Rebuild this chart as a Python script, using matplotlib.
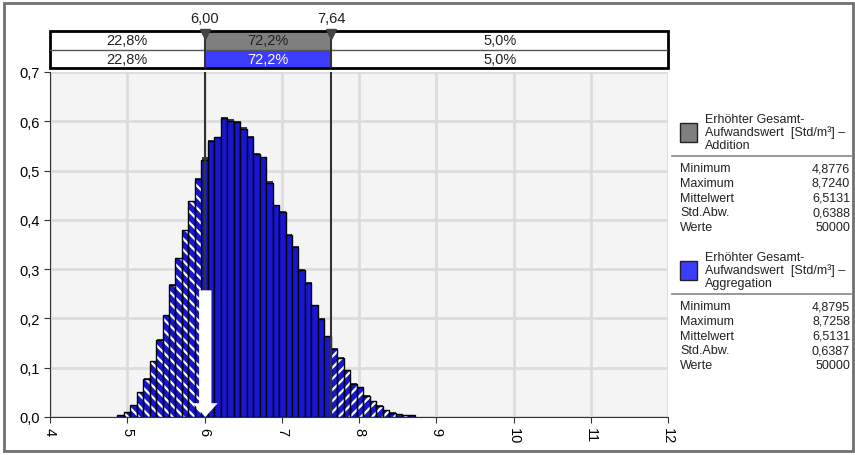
import matplotlib.pyplot as plt
from matplotlib.patches import Rectangle
from matplotlib.ticker import FuncFormatter
import numpy as np

# histogram bins (46 classes)
bin_start = 4.87
bin_width = 0.0838
aggregation = [0.004, 0.011, 0.024, 0.051, 0.078, 0.114, 0.157, 0.206, 0.268, 0.322,
               0.379, 0.438, 0.483, 0.522, 0.561, 0.569, 0.606, 0.601, 0.598, 0.584,
               0.569, 0.534, 0.528, 0.475, 0.431, 0.415, 0.370, 0.344, 0.299, 0.271,
               0.227, 0.199, 0.164, 0.137, 0.119, 0.095, 0.067, 0.060, 0.043, 0.032,
               0.023, 0.014, 0.009, 0.006, 0.004, 0.004]
addition = [0.004, 0.011, 0.025, 0.051, 0.079, 0.114, 0.158, 0.206, 0.269, 0.322,
            0.380, 0.438, 0.484, 0.527, 0.563, 0.569, 0.609, 0.604, 0.600, 0.588,
            0.570, 0.536, 0.528, 0.478, 0.431, 0.418, 0.372, 0.346, 0.301, 0.274,
            0.228, 0.200, 0.164, 0.139, 0.121, 0.095, 0.069, 0.061, 0.044, 0.033,
            0.024, 0.015, 0.010, 0.006, 0.004, 0.004]
lower_cut, upper_cut = 6.00, 7.64
cut_labels = ["6,00", "7,64"]
pct_addition = ["22,8%", "72,2%", "5,0%"]
pct_aggregation = ["22,8%", "72,2%", "5,0%"]

legend_titles = ["Erhöhter Gesamt-\nAufwandswert  [Std/m³] –\nAddition",
                 "Erhöhter Gesamt-\nAufwandswert  [Std/m³] –\nAggregation"]
stat_names = ["Minimum", "Maximum", "Mittelwert", "Std.Abw.", "Werte"]
stats_addition = ["4,8776", "8,7240", "6,5131", "0,6388", "50000"]
stats_aggregation = ["4,8795", "8,7258", "6,5131", "0,6387", "50000"]

BLUE = '#1616d4'
BLUE_LIGHT = '#3c3cff'
GREY = '#7f7f7f'
W, H = 855, 456

plt.rcParams['font.family'] = ['Liberation Sans', 'DejaVu Sans']
plt.rcParams['hatch.linewidth'] = 1.6

fig = plt.figure(figsize=(W / 100, H / 100), dpi=100)

def px(x, y):
    return x / W, 1 - y / H

# main plot area (pixels: x 50..668, y 73..418)
ax = fig.add_axes([50 / W, 1 - 418 / H, 618 / W, 345 / H])
ax.set_facecolor('#f4f4f4')
ax.set_xlim(4, 12)
ax.set_ylim(0, 0.7)
ax.set_xticks(range(4, 13))
ax.set_yticks(np.arange(0, 0.71, 0.1))
ax.grid(True, color='#dcdcdc', lw=2)
ax.set_axisbelow(True)
ax.yaxis.set_major_formatter(FuncFormatter(lambda v, p: f"{v:.1f}".replace('.', ',')))
ax.tick_params(axis='y', labelsize=10.5, length=4, color='#333333')
ax.tick_params(axis='x', labelsize=10.5, length=4, color='#333333', labelrotation=-90)
for s in ['top', 'right']:
    ax.spines[s].set_visible(False)
ax.spines['left'].set_color('#333333')
ax.spines['bottom'].set_color('#333333')

lefts = bin_start + np.arange(len(aggregation)) * bin_width
centers = lefts + bin_width / 2
inner = (centers > lower_cut) & (centers < upper_cut)
low = centers <= lower_cut
high = centers >= upper_cut
agg = np.array(aggregation)
add = np.array(addition)

# grey "Addition" histogram behind
ax.bar(lefts + 0.006, add, width=bin_width, align='edge', color='#3a3a3a', lw=0, zorder=2)

# solid middle part
ax.bar(lefts[inner], agg[inner], width=bin_width, align='edge',
       color=BLUE, edgecolor='black', lw=1, zorder=3)
# hatched tails
for m, hatch in [(low, '\\\\\\'), (high, '///')]:
    ax.bar(lefts[m], agg[m], width=bin_width, align='edge', color=BLUE,
           edgecolor='white', hatch=hatch, lw=0, zorder=3)
    ax.bar(lefts[m], agg[m], width=bin_width, align='edge', fill=False,
           edgecolor='black', lw=1, zorder=4)

# cut lines
for c in [lower_cut, upper_cut]:
    ax.axvline(c, color='#333333', lw=1.5, zorder=5)

# white arrow at lower cut
ax.arrow(lower_cut + 0.01, 0.257, 0, -0.257, width=0.16, head_width=0.32,
         head_length=0.028, length_includes_head=True, color='white', lw=0, zorder=6)

# header boxes
hx = fig.add_axes([50 / W, 1 - 69 / H, 618 / W, 37 / H])
hx.set_xlim(4, 12)
hx.set_ylim(0, 2)
hx.axis('off')
segs = [(4, lower_cut), (lower_cut, upper_cut), (upper_cut, 12)]
for i, (a, b) in enumerate(segs):
    mid = i == 1
    hx.add_patch(Rectangle((a, 1), b - a, 1, facecolor=GREY if mid else 'white',
                           edgecolor='none'))
    hx.add_patch(Rectangle((a, 0), b - a, 1, facecolor=BLUE_LIGHT if mid else 'white',
                           edgecolor='none'))
    hx.text((a + b) / 2, 1.5, pct_addition[i], ha='center', va='center', fontsize=10.5,
            color='#222222')
    hx.text((a + b) / 2, 0.5, pct_aggregation[i], ha='center', va='center', fontsize=10.5,
            color='white' if mid else '#222222')
hx.plot([4, 12], [1, 1], color='#555555', lw=1)
hx.add_patch(Rectangle((4, 0), 8, 2, fill=False, edgecolor='black', lw=2, clip_on=False))
for c, lab in zip([lower_cut, upper_cut], cut_labels):
    hx.plot([c, c], [0, 2], color='#333333', lw=1.5)
    hx.plot(c, 1.85, marker='v', markersize=7, color='#444444', clip_on=False)
    hx.text(c, 2.35, lab, ha='center', va='bottom', fontsize=10.5, color='#222222')

# legend / stats panel
swatches = [GREY, BLUE_LIGHT]
stats = [stats_addition, stats_aggregation]
for k, y0 in enumerate([117, 255]):
    fig.patches.append(Rectangle(px(680, y0 + 26), 17 / W, 19 / H, transform=fig.transFigure,
                                 facecolor=swatches[k], edgecolor='#222222', lw=1))
    fig.text(*px(705, y0 - 3), legend_titles[k], fontsize=9, va='top', ha='left',
             linespacing=1.05, color='#222222')
    fig.add_artist(plt.Line2D([672 / W, 851 / W], [1 - (y0 + 40) / H] * 2,
                              transform=fig.transFigure, color='#888888', lw=1.2))
    for j, (n, v) in enumerate(zip(stat_names, stats[k])):
        yy = y0 + 52 + j * 14.8
        fig.text(*px(680, yy), n, fontsize=9, va='center', ha='left', color='#222222')
        fig.text(*px(850, yy), v, fontsize=9, va='center', ha='right', color='#222222')

# outer frame
fig.patches.append(Rectangle(px(4, 452), 849 / W, 448 / H, transform=fig.transFigure,
                             fill=False, edgecolor='#707070', lw=2))

fig.savefig('out.png', dpi=100)
